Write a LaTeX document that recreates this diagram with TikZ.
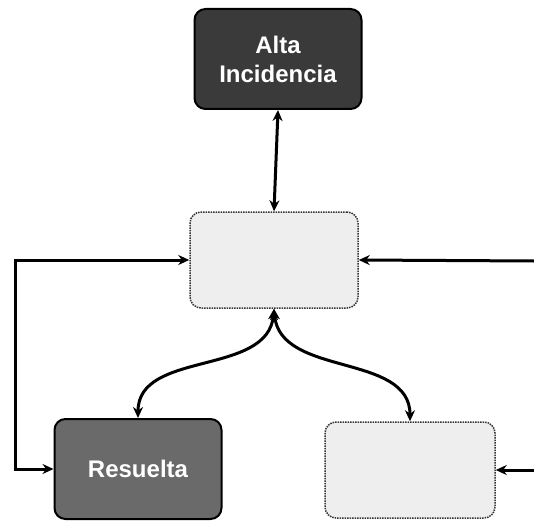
\documentclass[tikz,border=0pt]{standalone}
\usepackage{fontspec}
\setsansfont{Liberation Sans}
\usetikzlibrary{arrows.meta,positioning,calc}
\definecolor{dark}{HTML}{3A3A3A}
\definecolor{medium}{HTML}{6A6A6A}
\definecolor{pale}{HTML}{EEEEEE}

\begin{document}
\begin{tikzpicture}[x=1pt,y=-1pt,>={Stealth[length=11pt,width=10pt]},
 d/.style={draw=black,line width=2pt,rounded corners=11pt,fill=dark,align=center,
 text=white,font=\sffamily\bfseries\fontsize{24}{29}\selectfont,minimum width=167pt,minimum height=100pt},
 m/.style={d,fill=medium},
 p/.style={draw=black!80,densely dotted,line width=1.5pt,rounded corners=11pt,fill=pale,
 minimum width=168pt,minimum height=96pt},
 c/.style={line width=3pt}]
\useasboundingbox (0,0) rectangle (534,521);
\node[d] (alta) at (278,59) {Alta\\Incidencia};
\node[p] (inc) at (274,260) {};
\node[m] (res) at (138,469) {Resuelta};
\node[p,minimum width=170pt] (blank) at (410,470) {};
\coordinate (lft) at (15,260);
\coordinate (rtop) at (534,261);
\coordinate (rbot) at (534,470);
\draw[c,<->] (alta.south)--(inc.north);
\draw[c,<->] (inc.west)--(lft)|-(res.west);
\draw[c,->] (rtop)--(inc.east); \draw[c,->] (rbot)--(blank.east);
\draw[c,<->] (inc.south) to[out=-95,in=90] (res.north);
\draw[c,<->] (inc.south) to[out=-85,in=90] (blank.north);
\end{tikzpicture}
\end{document}
